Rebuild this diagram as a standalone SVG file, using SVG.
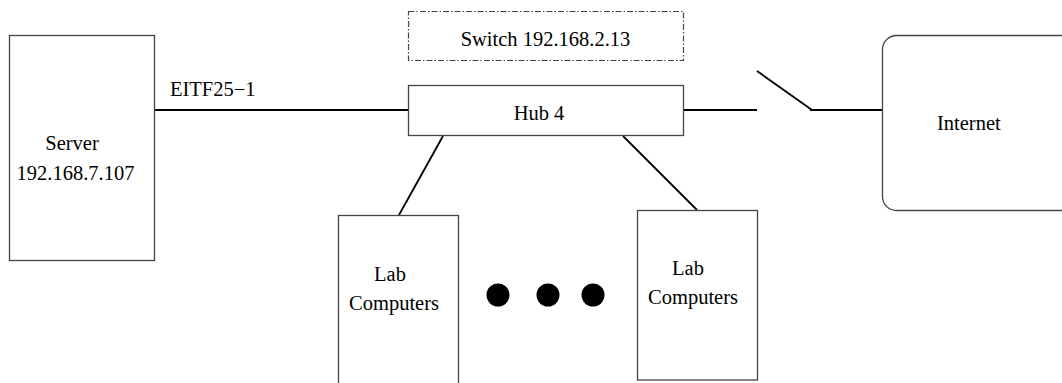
<svg xmlns="http://www.w3.org/2000/svg" width="1062" height="383" viewBox="0 0 1062 383">
<style>
.box{fill:#fff;stroke:#444;stroke-width:1.3}
.dash{fill:none;stroke:#444;stroke-width:1.2;stroke-dasharray:6 2 1.5 2}
.wire{fill:none;stroke:#000;stroke-width:1.8}
.t{font-family:'Liberation Serif','Times New Roman',Times,serif;font-size:20.5px;fill:#000}
</style>
<rect width="1062" height="383" fill="#fff"/>
<g id="connectors">
<line class="wire" x1="154" y1="110" x2="408" y2="110"/>
<line class="wire" x1="683" y1="110" x2="757" y2="110"/>
<line class="wire" x1="757" y1="71" x2="812" y2="110"/>
<line class="wire" x1="810" y1="110" x2="882" y2="110"/>
<line class="wire" x1="443" y1="136" x2="399" y2="215"/>
<line class="wire" x1="623" y1="136" x2="697" y2="210"/>
<text class="t" x="170" y="96">EITF25−1</text>
</g>
<g id="server">
<rect class="box" x="9.5" y="35.5" width="145" height="225"/>
<text class="t" x="72" y="150" text-anchor="middle">Server</text>
<text class="t" x="75.5" y="180" text-anchor="middle">192.168.7.107</text>
</g>
<g id="switch">
<rect class="dash" x="408.5" y="11.5" width="275" height="49"/>
<text class="t" x="545.5" y="46" text-anchor="middle">Switch 192.168.2.13</text>
</g>
<g id="hub">
<rect class="box" x="408.5" y="85.5" width="275" height="50"/>
<text class="t" x="539" y="120" text-anchor="middle">Hub 4</text>
</g>
<g id="internet">
<rect class="box" x="882.5" y="35.5" width="200" height="175" rx="14"/>
<text class="t" x="937" y="130">Internet</text>
</g>
<g id="lab1">
<rect class="box" x="338.5" y="215.5" width="120" height="180"/>
<text class="t" x="390" y="281" text-anchor="middle">Lab</text>
<text class="t" x="394" y="310" text-anchor="middle">Computers</text>
</g>
<g id="lab2">
<rect class="box" x="637.5" y="210.5" width="120" height="169.5"/>
<text class="t" x="688" y="275" text-anchor="middle">Lab</text>
<text class="t" x="693" y="304" text-anchor="middle">Computers</text>
</g>
<g id="dots">
<circle cx="498" cy="295" r="11.5" fill="#000"/>
<circle cx="548" cy="295" r="11.5" fill="#000"/>
<circle cx="593" cy="295" r="11.5" fill="#000"/>
</g>
</svg>
